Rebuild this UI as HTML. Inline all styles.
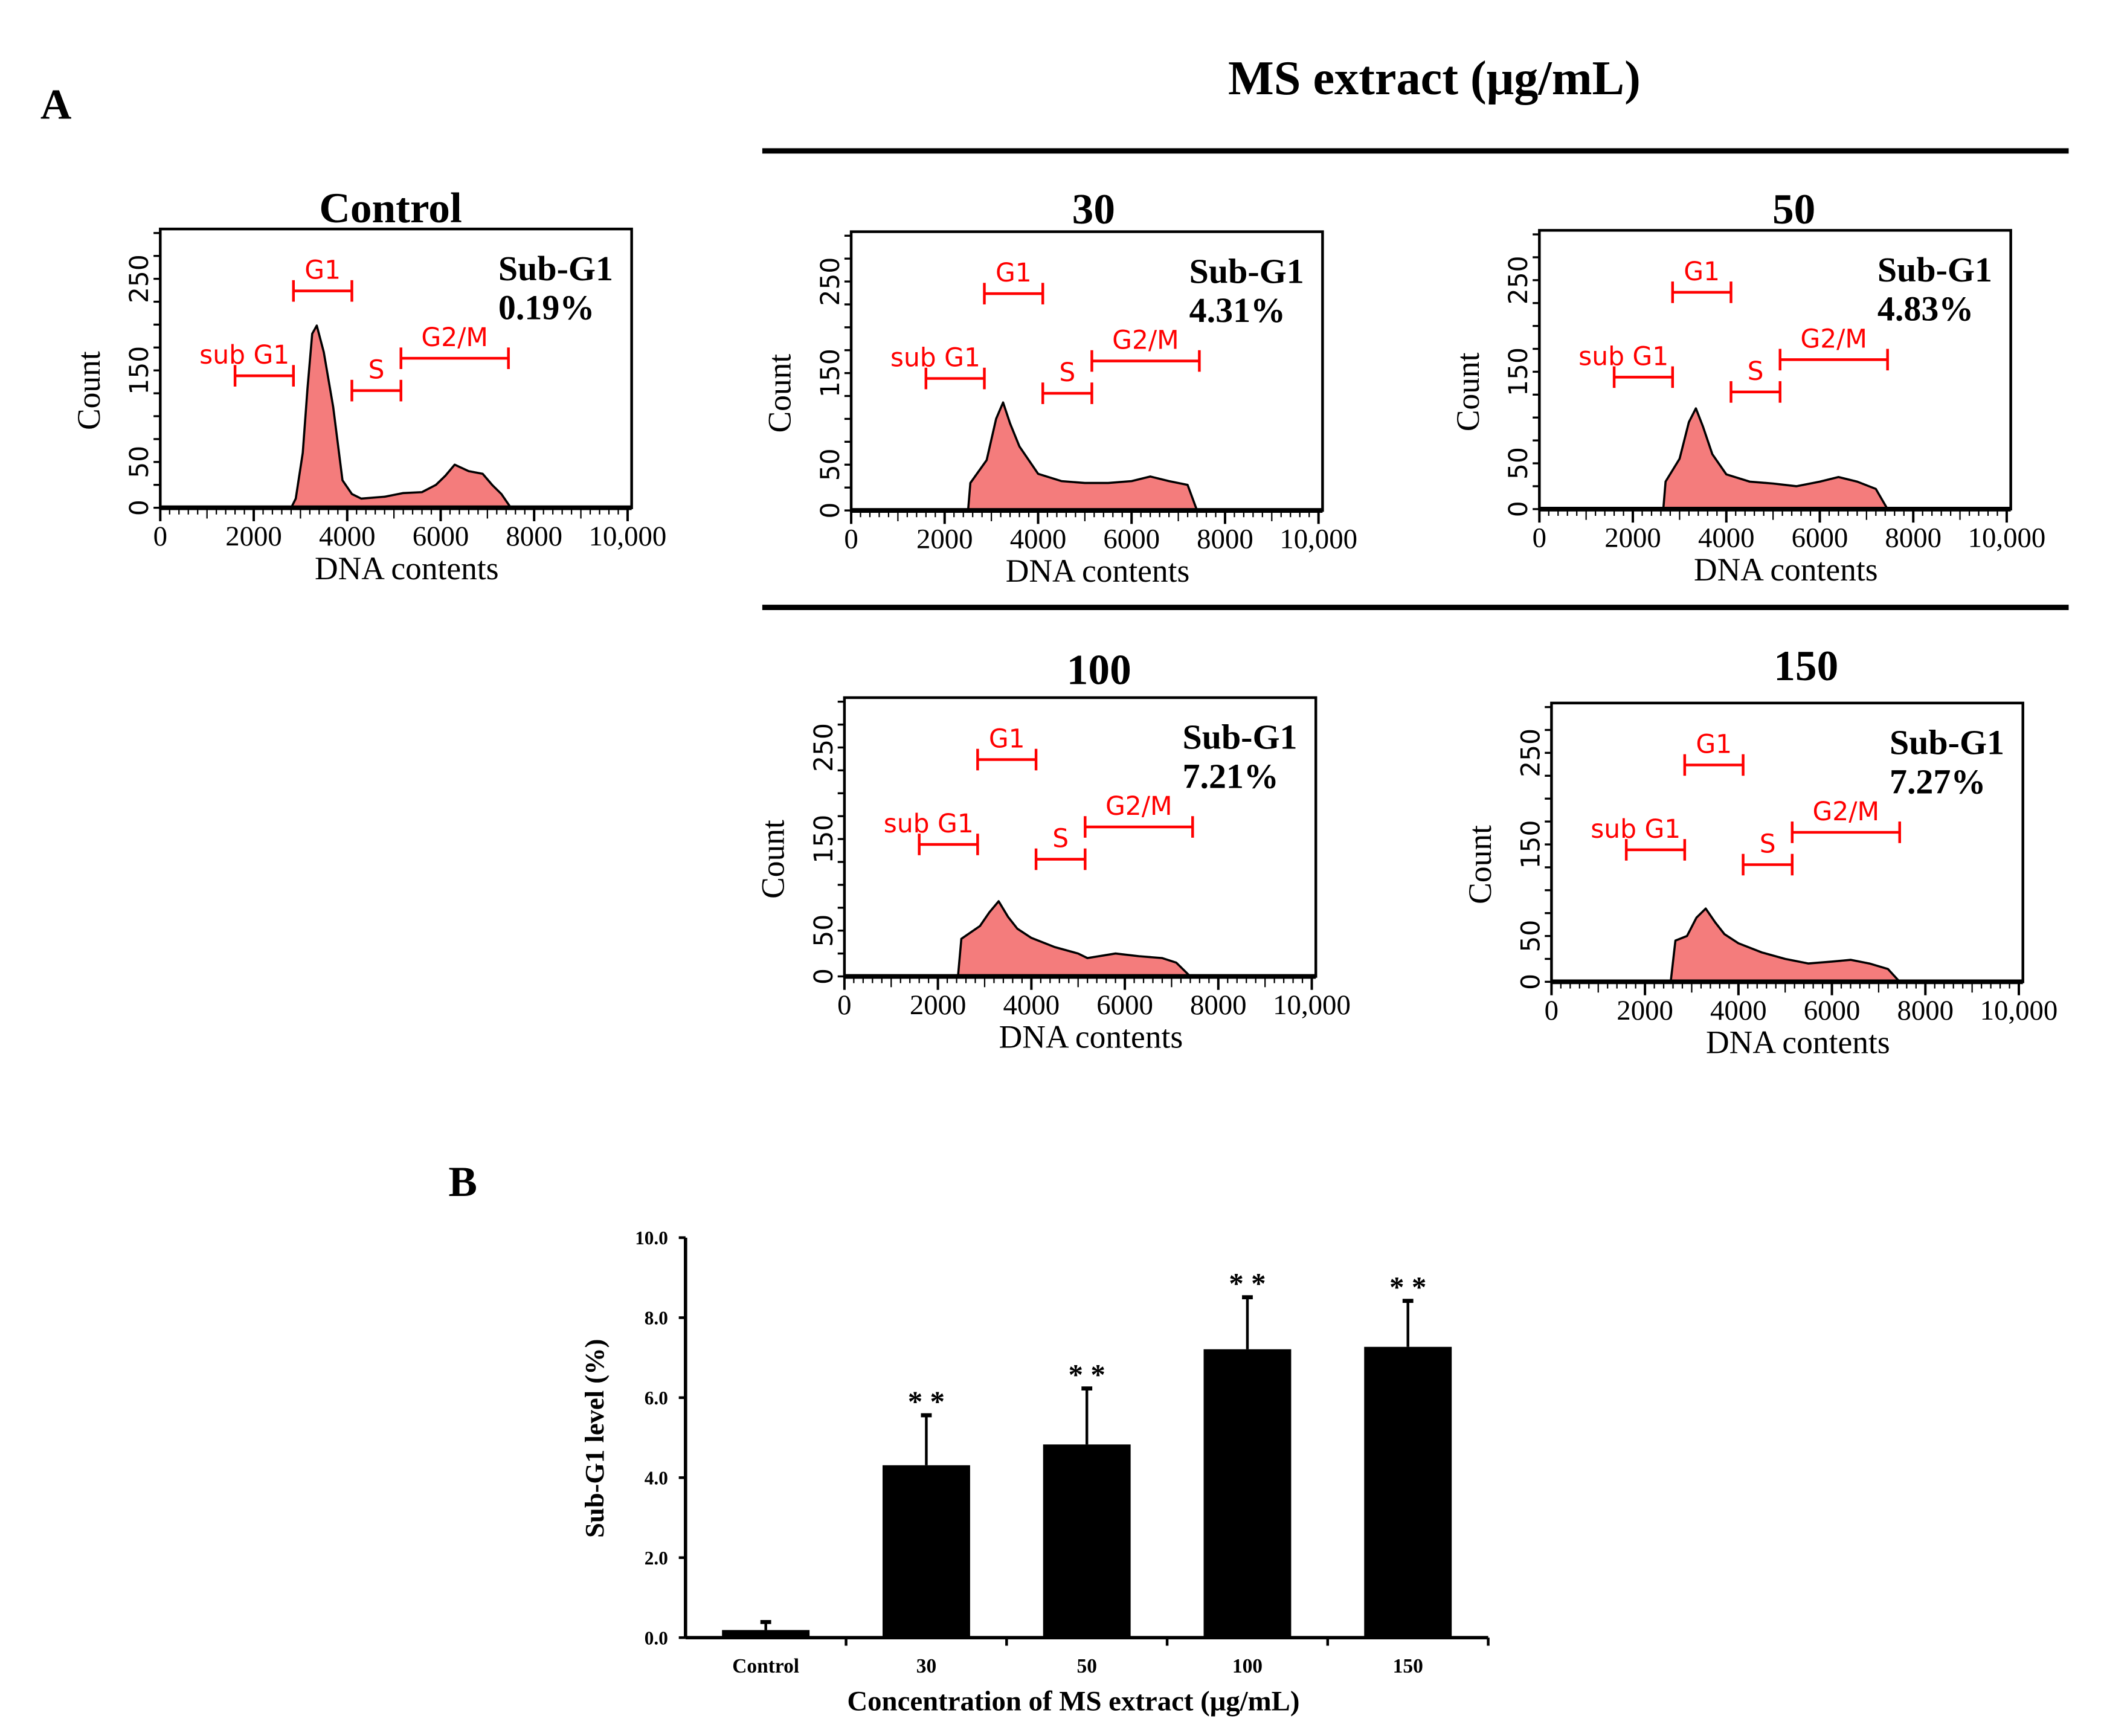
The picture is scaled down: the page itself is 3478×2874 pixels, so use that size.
<!DOCTYPE html>
<html><head><meta charset="utf-8"><style>
html,body{margin:0;padding:0;background:#fff}
svg{display:block}
.serif{font-family:"Liberation Serif",serif}
.sans{font-family:"DejaVu Sans","Liberation Sans",sans-serif}
</style></head><body>
<svg id="fig" width="3478" height="2874" viewBox="0 0 1560 1289" xmlns="http://www.w3.org/2000/svg">
<rect width="1560" height="1289" fill="#fff"/>
<text class="serif" x="30" y="88" font-size="32" font-weight="bold">A</text>
<text class="serif" x="1065" y="70" font-size="36" font-weight="bold" text-anchor="middle">MS extract (μg/mL)</text>
<line x1="566" y1="112" x2="1536" y2="112" stroke="#000" stroke-width="4"/>
<line x1="566" y1="451" x2="1536" y2="451" stroke="#000" stroke-width="4"/>
<text class="serif" x="333" y="888" font-size="32" font-weight="bold">B</text>
<g id="hists"></g>
<g id="bars"></g>
</svg>
<script>
const NS="http://www.w3.org/2000/svg";
// Histogram data (DNA contents, counts)
const controlDNA=[0,2800,2900,3050,3150,3250,3350,3500,3700,3900,4100,4300,4800,5200,5600,5900,6100,6300,6600,6900,7100,7300,7500,10000];
const controlCounts=[0,0,10,60,130,190,199,170,110,30,15,10,12,16,17,25,35,47,40,37,25,15,0,0];
const s30DNA=[0,2500,2550,2900,3100,3250,3400,3600,4000,4500,5000,5500,6000,6400,6800,7200,7400,10000];
const s30Counts=[0,0,30,55,100,118,95,70,40,32,30,30,32,37,32,28,0,0];
const s50DNA=[0,2650,2700,3000,3200,3350,3500,3700,4000,4500,5000,5500,6000,6400,6800,7200,7450,10000];
const s50Counts=[0,0,30,55,95,110,90,60,38,30,28,25,30,35,30,22,0,0];
const s100DNA=[0,2430,2500,2900,3100,3300,3500,3700,4000,4500,5000,5200,5800,6300,6800,7100,7400,10000];
const s100Counts=[0,0,41,55,70,82,65,52,42,32,25,20,25,22,20,15,0,0];
const s150DNA=[0,2550,2650,2900,3100,3300,3500,3700,4000,4500,5000,5500,6000,6400,6800,7200,7450,10000];
const s150Counts=[0,0,45,50,70,80,65,52,42,32,25,20,22,24,20,14,0,0];
const panelTitles=["Control","30","50","100","150"];
const subG1Text=["0.19%","4.31%","4.83%","7.21%","7.27%"];
const xTickLabels=["0","2000","4000","6000","8000","10,000"];
const yTickLabels=["0","50","150","250"];
const yTickValues=[0,50,150,250];
const histDNA=[controlDNA,s30DNA,s50DNA,s100DNA,s150DNA];
const histCounts=[controlCounts,s30Counts,s50Counts,s100Counts,s150Counts];
const gateNames=["sub G1","G1","S","G2/M"];
const gateStart=[1600,2850,4100,5150];
const gateEnd=[2850,4100,5150,7450];
// Bar chart data
const barCategories=["Control","30","50","100","150"];
const barValues=[0.19,4.31,4.83,7.21,7.27];
const barErrors=[0.2,1.25,1.4,1.3,1.15];
const barSig=["","* *","* *","* *","* *"];
const yBarTicks=["0.0","2.0","4.0","6.0","8.0","10.0"];

function mk(tag,attrs,parent,text){const e=document.createElementNS(NS,tag);for(const k in attrs)e.setAttribute(k,attrs[k]);if(text!==undefined)e.textContent=text;parent.appendChild(e);return e;}

const layout=[{x:119,y:170,t:[290,165]},{x:632,y:172,t:[812,166]},{x:1143,y:171,t:[1332,166]},{x:627,y:518,t:[816,508]},{x:1152,y:522,t:[1341,505]}];
const hists=document.getElementById('hists');
layout.forEach((L,i)=>{
  const W=350,H=207;
  const g=mk('g',{},hists);
  
  
  const X=v=>L.x+v*0.0347, Y=c=>L.y+H-c*0.68;
  const t=mk('text',{class:'serif',x:L.t[0],y:L.t[1],'font-size':32,'font-weight':'bold','text-anchor':'middle'},g,panelTitles[i]);
   
  let d='M'+X(histDNA[i][0])+','+Y(0);
  histDNA[i].forEach((v,k)=>{d+=' L'+X(v).toFixed(1)+','+Y(histCounts[i][k]).toFixed(1);});
  d+=' L'+X(10000)+','+Y(0)+'Z';
  const p=mk('path',{d:d,fill:'#f47c7c',stroke:'#000','stroke-width':1.6,'stroke-linejoin':'round'},g);
   
  const box=mk('rect',{x:L.x,y:L.y,width:W,height:H,fill:'none',stroke:'#000','stroke-width':2},g);
   
  mk('line',{x1:L.x,y1:L.y+H,x2:L.x+W,y2:L.y+H,stroke:'#000','stroke-width':3.5},g);
  for(let v=0;v<=10000;v+=200){const maj=v%2000===0, mid=v%1000===0;mk('line',{x1:X(v),y1:L.y+H,x2:X(v),y2:L.y+H+(maj?10:mid?8:5),stroke:'#000','stroke-width':maj?1.8:1},g);}
  xTickLabels.forEach((s,k)=>{const e=mk('text',{class:'serif',x:X(k*2000),y:L.y+H+28,'font-size':21,'text-anchor':'middle'},g,s);});
  for(let c=0;c<=300;c+=25){mk('line',{x1:L.x-5,y1:Y(c),x2:L.x,y2:Y(c),stroke:'#000','stroke-width':1.5},g);}
  yTickValues.forEach((c,k)=>{const e=mk('text',{class:'sans',x:0,y:0,'font-size':19,'text-anchor':'middle',transform:`translate(${L.x-9},${Y(c)}) rotate(-90)`},g,yTickLabels[k]);});
  const yl=mk('text',{class:'serif',x:0,y:0,'font-size':24,'text-anchor':'middle',transform:`translate(${L.x-45},${L.y+120}) rotate(-90)`},g,'Count');
   
  const xl=mk('text',{class:'serif',x:L.x+183,y:L.y+H+53,'font-size':24,'text-anchor':'middle'},g,'DNA contents');
   
  const a=mk('text',{class:'serif',x:L.x+251,y:L.y+38,'font-size':26,'font-weight':'bold'},g,'Sub-G1');
   
  const b=mk('text',{class:'serif',x:L.x+251,y:L.y+67,'font-size':26,'font-weight':'bold'},g,subG1Text[i]);
   
  const gy=[109,46,120,96];
  gateNames.forEach((n,k)=>{
    const x1=X(gateStart[k]),x2=X(gateEnd[k]),yy=L.y+gy[k];
    const gg=mk('g',{stroke:'#f00','stroke-width':2},g);
     
    mk('line',{x1:x1,y1:yy,x2:x2,y2:yy},gg);mk('line',{x1:x1,y1:yy-8,x2:x1,y2:yy+8},gg);mk('line',{x1:x2,y1:yy-8,x2:x2,y2:yy+8},gg);
    const lx=k===0?x1+7:(x1+x2)/2;
    mk('text',{class:'sans',x:lx,y:yy-9,'font-size':19,fill:'#f00',stroke:'none','text-anchor':'middle'},gg,n);
  });
});

const bars=document.getElementById('bars');
const bx0=509,bx1=1105,by0=1216,by10=919;
const BY=v=>by0-(v/10)*(by0-by10);
const step=(bx1-bx0)/barCategories.length;
const BX=i=>bx0+step*(i+0.5);
mk('line',{x1:bx0,y1:by10,x2:bx0,y2:by0,stroke:'#000','stroke-width':2.5},bars);
mk('line',{x1:bx0,y1:by0,x2:bx1,y2:by0,stroke:'#000','stroke-width':2.5},bars);
yBarTicks.forEach((s,k)=>{const y=BY(k*2);mk('line',{x1:bx0-5,y1:y,x2:bx0,y2:y,stroke:'#000','stroke-width':2},bars);
  const e=mk('text',{class:'serif',x:bx0-13,y:y+5,'font-size':14,'font-weight':'bold','text-anchor':'end'},bars,s);});
for(let i=1;i<=barCategories.length;i++){mk('line',{x1:bx0+step*i,y1:by0,x2:bx0+step*i,y2:by0+6,stroke:'#000','stroke-width':2},bars);}
barCategories.forEach((c,i)=>{
  const cx=BX(i),w=65;
  const r=mk('rect',{x:cx-w/2,y:BY(barValues[i]),width:w,height:by0-BY(barValues[i]),fill:'#000'},bars);
   
  const top=BY(barValues[i]+barErrors[i]);
  const eb=mk('g',{stroke:'#000','stroke-width':2},bars);
   
  mk('line',{x1:cx,y1:BY(barValues[i]),x2:cx,y2:top},eb);mk('line',{x1:cx-4,y1:top,x2:cx+4,y2:top,'stroke-width':3},eb);
  if(barSig[i]){const s=mk('text',{class:'serif',x:cx,y:top-3,'font-size':22,'font-weight':'bold','text-anchor':'middle'},bars,barSig[i]);}
  const l=mk('text',{class:'serif',x:cx,y:1242,'font-size':15,'font-weight':'bold','text-anchor':'middle'},bars,c);
   
});
const bxt=mk('text',{class:'serif',x:797,y:1270,'font-size':21,'font-weight':'bold','text-anchor':'middle','xml:space':'preserve'},bars,'Concentration of MS extract  (μg/mL)');
 
const byt=mk('text',{class:'serif',x:0,y:0,'font-size':20,'font-weight':'bold','text-anchor':'middle',transform:'translate(448,1068) rotate(-90)'},bars,'Sub-G1 level (%)');
 
</script>
</body></html>
